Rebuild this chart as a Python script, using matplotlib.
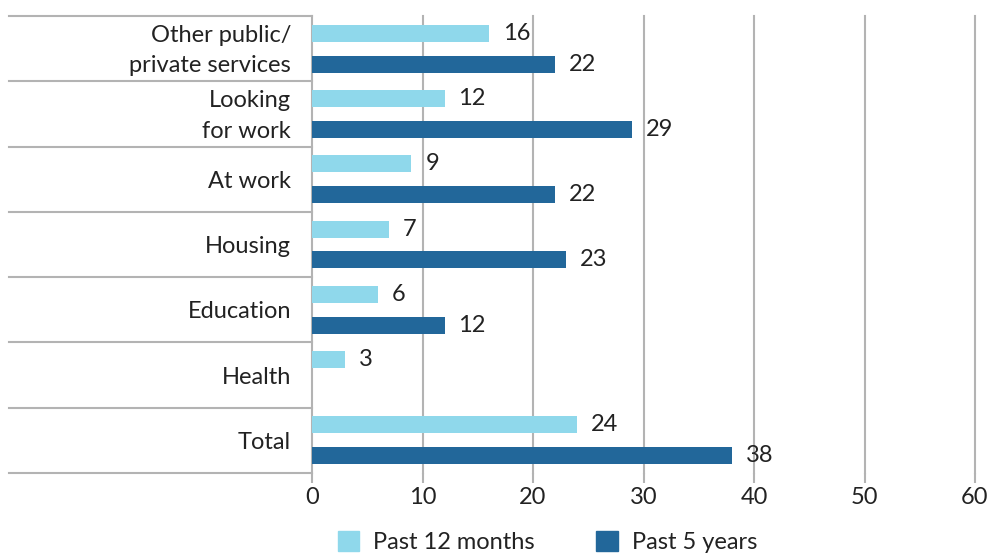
import matplotlib.pyplot as plt
from matplotlib.patches import Patch
from matplotlib.lines import Line2D
from matplotlib.transforms import blended_transform_factory
import numpy as np

# data
categories = ["Other public/\nprivate services", "Looking\nfor work", "At work",
              "Housing", "Education", "Health", "Total"]
past_12_months = [16, 12, 9, 7, 6, 3, 24]
past_5_years = [22, 29, 22, 23, 12, None, 38]
series_names = ["Past 12 months", "Past 5 years"]

light = "#8fd8eb"
dark = "#22679a"
grey = "#b3b3b3"
txt = "#222222"

plt.rcParams['font.family'] = ['Lato', 'DejaVu Sans']
fs = 17

fig = plt.figure(figsize=(9.92, 5.53), dpi=100)
ax = fig.add_axes([312 / 992, 1 - 473 / 553, (975 - 312) / 992, (473 - 16) / 553])

y = np.arange(len(categories))
off = 0.237
h = 0.26

for i, v in enumerate(past_12_months):
    if v is not None:
        ax.barh(y[i] - off, v, height=h, color=light)
        ax.text(v + 1.25, y[i] - off, str(v), va="center", ha="left", fontsize=fs, color=txt)
for i, v in enumerate(past_5_years):
    if v is not None:
        ax.barh(y[i] + off, v, height=h, color=dark)
        ax.text(v + 1.25, y[i] + off, str(v), va="center", ha="left", fontsize=fs, color=txt)

ax.set_xlim(0, 60)
ax.set_ylim(len(categories) - 0.5, -0.5)
ax.set_xticks(range(0, 61, 10))
ax.tick_params(axis="x", length=7, width=1.5, color=grey, labelsize=fs, labelcolor=txt, pad=3)
ax.set_yticks([])
for x in range(0, 61, 10):
    ax.axvline(x, color=grey, lw=1.5, zorder=0, clip_on=False)
for s in ax.spines.values():
    s.set_visible(False)

# category labels and separators on the left
tr = blended_transform_factory(fig.transFigure, ax.transData)
for i, c in enumerate(categories):
    fig.text(291 / 992, 0, c, transform=tr, ha="right", va="center",
             fontsize=fs, color=txt, linespacing=1.55).set_y(i + 0.03)
for b in np.arange(len(categories) + 1) - 0.5:
    fig.add_artist(Line2D([9 / 992, 312 / 992], [b, b], transform=tr, color=grey, lw=1.5))

handles = [Patch(color=light), Patch(color=dark)]
fig.legend(handles, series_names, loc="center", bbox_to_anchor=(0.552, 0.02), ncol=2,
           frameon=False, fontsize=fs, handlelength=0.9, handleheight=0.9,
           handletextpad=0.6, columnspacing=2.6, labelcolor=txt)

fig.savefig("out.png", dpi=100)
